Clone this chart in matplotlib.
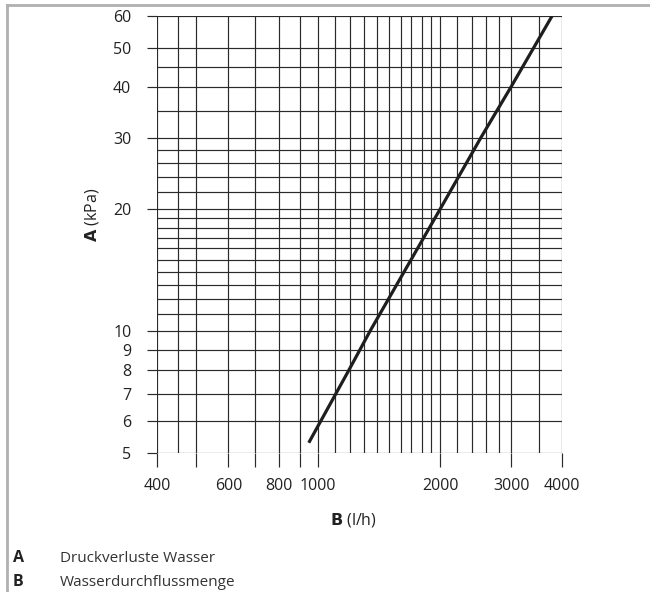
import matplotlib
matplotlib.use("Agg")
import matplotlib.pyplot as plt
from matplotlib.lines import Line2D
from matplotlib.ticker import FixedLocator, FixedFormatter, NullFormatter

plt.rcParams["font.family"] = ["Open Sans", "DejaVu Sans"]

# curve: flow (l/h) vs pressure drop (kPa)
flow = [948, 1190, 1343, 2000, 2520, 2990, 3780]
dp = [5.3, 8.0, 10.0, 20.0, 30.0, 40.0, 60.0]

x_grid = [400, 450, 500, 600, 700, 800, 900, 1000, 1100, 1200, 1300, 1400,
          1500, 1600, 1700, 1800, 1900, 2000, 2200, 2400, 2600, 2800, 3000,
          3500, 4000]
y_grid = [5, 6, 7, 8, 9, 10, 11, 12, 13, 14, 15, 16, 17, 18, 19, 20, 22, 24,
          26, 28, 30, 35, 40, 45, 50, 60]

x_ticks = [400, 500, 600, 700, 800, 900, 1000, 2000, 3000, 4000]
x_labels = ["400", "", "600", "", "800", "", "1000", "2000", "3000", "4000"]
y_ticks = [5, 6, 7, 8, 9, 10, 20, 30, 40, 50, 60]
y_labels = [str(v) for v in y_ticks]

legend_items = [("A", "Druckverluste Wasser"), ("B", "Wasserdurchflussmenge")]

fig = plt.figure(figsize=(6.5, 5.92), dpi=100)
ax = fig.add_axes([157 / 650, 1 - 453 / 592, 405 / 650, 437 / 592])
ax.set_xscale("log")
ax.set_yscale("log")
ax.set_xlim(400, 4000)
ax.set_ylim(5, 60)

grid_kw = dict(color="#2a2a2a", lw=0.85, zorder=1)
for v in x_grid:
    ax.axvline(v, **grid_kw)
for v in y_grid:
    ax.axhline(v, **grid_kw)

ax.plot(flow, dp, color="#1e1e1e", lw=2.3, solid_capstyle="butt", zorder=3)

ax.xaxis.set_major_locator(FixedLocator(x_ticks))
ax.xaxis.set_major_formatter(FixedFormatter(x_labels))
ax.xaxis.set_minor_locator(FixedLocator([]))
ax.xaxis.set_minor_formatter(NullFormatter())
ax.yaxis.set_major_locator(FixedLocator(y_ticks))
ax.yaxis.set_major_formatter(FixedFormatter(y_labels))
ax.yaxis.set_minor_locator(FixedLocator([]))
ax.yaxis.set_minor_formatter(NullFormatter())

ax.tick_params(axis="x", length=10, width=0.85, pad=8, labelsize=11.5,
               color="#2a2a2a", labelcolor="#222222")
ax.tick_params(axis="y", length=7.5, width=0.85, pad=11, labelsize=11.5,
               color="#2a2a2a", labelcolor="#222222")
for s in ax.spines.values():
    s.set_visible(False)

fig.text(353 / 650, 1 - 520 / 592, r"$\bf{B}$ (l/h)", ha="center", va="center",
         fontsize=11.5, color="#222222")
fig.text(92 / 650, 1 - 215 / 592, r"$\bf{A}$ (kPa)", ha="center", va="center",
         rotation=90, fontsize=11.5, color="#222222")

for i, (key, desc) in enumerate(legend_items):
    yb = 1 - (562 + 24 * i) / 592
    fig.text(13 / 650, yb, key, fontsize=11.5, fontweight="bold", va="baseline",
             color="#222222")
    fig.text(60 / 650, yb, desc, fontsize=11, va="baseline", color="#333333")

# grey frame on top and left
fig.add_artist(Line2D([7 / 650, 1], [1 - 4.5 / 592, 1 - 4.5 / 592],
                      transform=fig.transFigure, color="#b0b0b0", lw=2))
fig.add_artist(Line2D([7 / 650, 7 / 650], [0, 1 - 4.5 / 592],
                      transform=fig.transFigure, color="#b0b0b0", lw=2))

fig.savefig("out.png", dpi=100)
